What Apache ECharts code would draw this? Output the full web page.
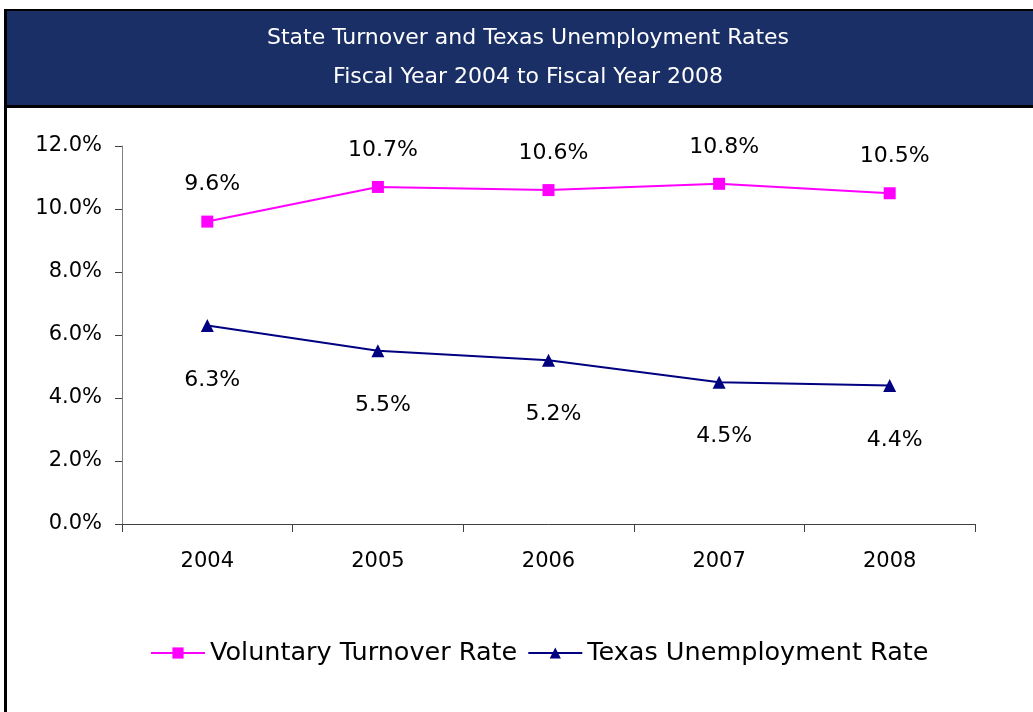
<!DOCTYPE html>
<html>
<head>
<meta charset="utf-8">
<script src="https://cdn.jsdelivr.net/npm/echarts@6/dist/echarts.min.js"></script>
<style>
html,body{margin:0;padding:0;background:#fff;}
#chart{width:1033px;height:712px;}
</style>
</head>
<body>
<div id="chart"></div>
<script>
var titleLines = ['State Turnover and Texas Unemployment Rates', 'Fiscal Year 2004 to Fiscal Year 2008'];
var categories = ['2004', '2005', '2006', '2007', '2008'];
var turnoverName = 'Voluntary Turnover Rate';
var turnoverValues = [9.6, 10.7, 10.6, 10.8, 10.5];
var unemploymentName = 'Texas Unemployment Rate';
var unemploymentValues = [6.3, 5.5, 5.2, 4.5, 4.4];
var yMin = 0, yMax = 12, yStep = 2;

var fontFam = 'DejaVu Sans, Verdana, sans-serif';
var chart = echarts.init(document.getElementById('chart'), null, {renderer: 'canvas'});
chart.setOption({
  animation: false,
  backgroundColor: '#ffffff',
  graphic: [
    {type: 'rect', shape: {x: 4, y: 9, width: 1040, height: 99}, style: {fill: '#000000'}, z: -2},
    {type: 'rect', shape: {x: 7, y: 11, width: 1040, height: 94}, style: {fill: '#1A2F66'}, z: -1},
    {type: 'rect', shape: {x: 4, y: 9, width: 3, height: 720}, style: {fill: '#000000'}, z: -1}
  ],
  title: {
    text: titleLines.join('\n'),
    left: 523, top: 14, textAlign: 'center',
    textStyle: {color: '#ffffff', fontFamily: fontFam, fontSize: 22, fontWeight: 'normal', lineHeight: 39}
  },
  grid: {left: 122, top: 146, width: 853, height: 378, containLabel: false},
  xAxis: {
    type: 'category', data: categories, boundaryGap: true,
    axisLine: {lineStyle: {color: '#404040', width: 1}},
    axisTick: {show: true, length: 8, lineStyle: {color: '#404040'}},
    axisLabel: {color: '#000', fontFamily: fontFam, fontSize: 21, margin: 27}
  },
  yAxis: {
    type: 'value', min: yMin, max: yMax, interval: yStep,
    axisLine: {show: true, lineStyle: {color: '#808080', width: 1}},
    axisTick: {show: true, length: 7, lineStyle: {color: '#404040'}},
    splitLine: {show: false},
    axisLabel: {color: '#000', fontFamily: fontFam, fontSize: 21, margin: 20,
      formatter: function (v) { return v.toFixed(1) + '%'; }}
  },
  legend: {
    bottom: 41, left: 145, itemWidth: 54, itemHeight: 14, itemGap: 10,
    textStyle: {color: '#000', fontFamily: fontFam, fontSize: 25.5},
    data: [turnoverName, unemploymentName]
  },
  series: [
    {
      name: turnoverName, type: 'line', data: turnoverValues,
      symbol: 'rect', symbolSize: 12,
      lineStyle: {color: '#FF00FF', width: 2},
      itemStyle: {color: '#FF00FF'},
      label: {show: true, position: 'top', distance: 20, offset: [5, 0], color: '#000',
        fontFamily: fontFam, fontSize: 22,
        formatter: function (p) { return p.value.toFixed(1) + '%'; }}
    },
    {
      name: unemploymentName, type: 'line', data: unemploymentValues,
      symbol: 'triangle', symbolSize: 13,
      lineStyle: {color: '#000080', width: 2},
      itemStyle: {color: '#000080'},
      label: {show: true, position: 'bottom', distance: 37, offset: [5, 0], color: '#000',
        fontFamily: fontFam, fontSize: 22,
        formatter: function (p) { return p.value.toFixed(1) + '%'; }}
    }
  ]
});
</script>
</body>
</html>
